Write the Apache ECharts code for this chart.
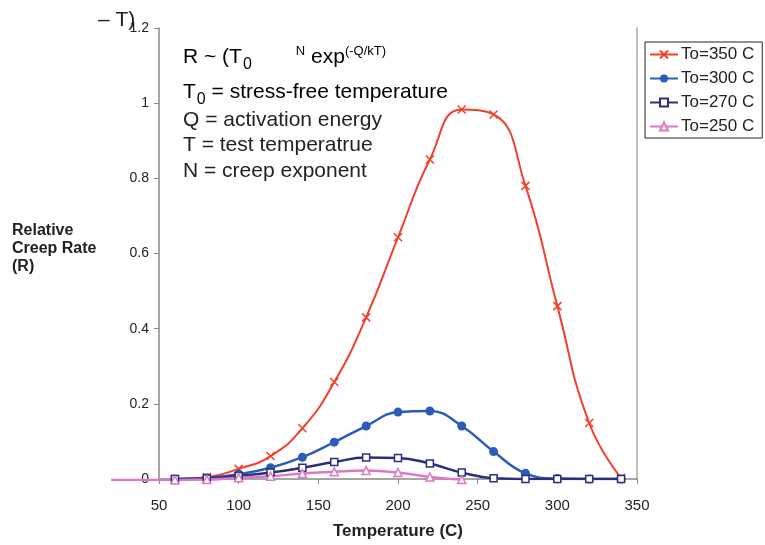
<!DOCTYPE html>
<html lang="en">
<head>
    <meta charset="UTF-8">
    <title>Relative Creep Rate</title>
    <script src="https://cdn.jsdelivr.net/npm/echarts@6/dist/echarts.min.js"></script>
    <style>
        html, body { margin: 0; padding: 0; background: #fff; }
        #main { width: 765px; height: 545px; }
    </style>
</head>
<body>
<div id="main"></div>
<script>
// temperatures (C)
var temps = [60, 80, 100, 120, 140, 160, 180, 200, 220, 240, 260, 280, 300, 320, 340];
var to350 = [0, 0.005, 0.027, 0.061, 0.135, 0.258, 0.43, 0.643, 0.85, 0.983, 0.97, 0.78, 0.46, 0.149, 0.003];
var to300 = [0, 0.003, 0.013, 0.03, 0.058, 0.098, 0.141, 0.178, 0.181, 0.141, 0.073, 0.015, 0.001, 0, 0];
var to270 = [0, 0.001, 0.008, 0.017, 0.03, 0.045, 0.057, 0.056, 0.041, 0.017, 0.002, 0, 0, 0, 0];
// the 250 C curve starts left of the axis
var tempsPink = [20, 40, 60, 80, 100, 120, 140, 160, 180, 200, 220, 240];
var to250 = [0, 0, 0, 0.001, 0.006, 0.01, 0.017, 0.022, 0.025, 0.02, 0.008, 0.001];

var xTicks = [50, 100, 150, 200, 250, 300, 350];

function pairs(xs, ys) {
    var out = [];
    for (var i = 0; i < xs.length; i++) {
        if (xs[i] < xTicks[0]) {
            out.push({value: [xs[i], ys[i]], symbol: 'none'});
        } else {
            out.push([xs[i], ys[i]]);
        }
    }
    return out;
}

// plot area
var gLeft = 159, gTop = 28, gWidth = 478, gHeight = 452;
var xMin = xTicks[0], xMax = xTicks[xTicks.length - 1];
var pxPerUnit = gWidth / (xMax - xMin);
// a second, invisible grid that reaches further left so the pink tail can be drawn
var x2Min = tempsPink[0];
var g2Left = gLeft - (xMin - x2Min) * pxPerUnit;
var g2Width = (xMax - x2Min) * pxPerUnit;

var chartDom = document.getElementById('main');
var myChart = echarts.init(chartDom, null, {renderer: 'canvas'});
var font = 'Liberation Sans, Arial, sans-serif';

var rich = {
    b: {fontSize: 21, fontFamily: font, color: '#222', verticalAlign: 'bottom', padding: [0, 0, 5, 0]},
    s: {fontSize: 16, fontFamily: font, color: '#222', padding: [0, 0, 0, 1], verticalAlign: 'bottom'},
    g: {width: 44},
    u: {fontSize: 13, fontFamily: font, color: '#222', padding: [0, 0, 15, 0], verticalAlign: 'bottom'}
};

var option = {
    animation: false,
    textStyle: {fontFamily: font},
    grid: [
        {left: gLeft, top: gTop, width: gWidth, height: gHeight},
        {left: g2Left, top: gTop, width: g2Width, height: gHeight}
    ],
    legend: {
        orient: 'vertical',
        left: 645,
        top: 42,
        width: 118,
        padding: [4, 8, 3, 4],
        itemWidth: 28,
        itemHeight: 10,
        itemGap: 7,
        borderColor: '#222',
        borderWidth: 1,
        borderRadius: 0,
        textStyle: {fontSize: 17, color: '#222', fontFamily: font, padding: [0, 0, 0, -2]},
        data: ['To=350 C', 'To=300 C', 'To=270 C', 'To=250 C']
    },
    xAxis: [{
        type: 'value',
        gridIndex: 0,
        min: xMin,
        max: xMax,
        interval: 50,
        name: 'Temperature (C)',
        nameLocation: 'middle',
        nameGap: 44,
        nameTextStyle: {fontSize: 17, fontWeight: 'bold', color: '#222', fontFamily: font},
        axisLine: {lineStyle: {color: '#888', width: 1.5}},
        axisTick: {show: true, length: 5, lineStyle: {color: '#888'}},
        axisLabel: {fontSize: 15, color: '#222', margin: 19},
        splitLine: {show: false}
    }, {
        type: 'value',
        gridIndex: 1,
        min: x2Min,
        max: xMax,
        show: false
    }],
    yAxis: [{
        type: 'value',
        gridIndex: 0,
        min: 0,
        max: 1.2,
        interval: 0.2,
        axisLine: {show: true, lineStyle: {color: '#888', width: 1.5}},
        axisTick: {show: true, length: 5, lineStyle: {color: '#888'}},
        axisLabel: {fontSize: 14, color: '#222', margin: 10},
        splitLine: {show: false}
    }, {
        type: 'value',
        gridIndex: 0,
        min: 0,
        max: 1.2,
        position: 'right',
        axisLine: {show: true, lineStyle: {color: '#aaa', width: 1.5}},
        axisTick: {show: false},
        axisLabel: {show: false},
        splitLine: {show: false}
    }, {
        type: 'value',
        gridIndex: 1,
        min: 0,
        max: 1.2,
        show: false
    }],
    graphic: [
        {type: 'text', left: 98, top: 10, style: {text: '– T)', font: '21px ' + font, fill: '#222'}},
        {type: 'text', left: 12, top: 222, style: {text: 'Relative\nCreep Rate\n(R)', font: 'bold 16px ' + font, fill: '#222', lineHeight: 18}},
        {type: 'text', left: 183, top: 45, style: {text: '{b|R ~ (T}{s|0}{g|}{u|N}{b| exp}{u|(-Q/kT)}', rich: rich}},
        {type: 'text', left: 183, top: 82, style: {text: '{b|T}{s|0}{b| = stress-free temperature}', rich: rich}},
        {type: 'text', left: 183, top: 110, style: {text: 'Q = activation energy', font: '21px ' + font, fill: '#222'}},
        {type: 'text', left: 183, top: 135, style: {text: 'T = test temperatrue', font: '21px ' + font, fill: '#222'}},
        {type: 'text', left: 183, top: 161, style: {text: 'N = creep exponent', font: '21px ' + font, fill: '#222'}}
    ],
    series: [
        {
            name: 'To=350 C', type: 'line', smooth: 0.5,
            symbol: 'path://M0,0L10,10M10,0L0,10', symbolSize: 8,
            itemStyle: {color: '#f0402d', borderColor: '#f0402d', borderWidth: 1.5},
            lineStyle: {color: '#f0402d', width: 2},
            data: pairs(temps, to350)
        },
        {
            name: 'To=300 C', type: 'line', smooth: 0.45,
            symbol: 'circle', symbolSize: 9,
            itemStyle: {color: '#2c5cb8'},
            lineStyle: {color: '#2c5cb8', width: 2.5},
            data: pairs(temps, to300)
        },
        {
            name: 'To=270 C', type: 'line', smooth: 0.45,
            symbol: 'rect', symbolSize: 7,
            itemStyle: {color: '#fff', borderColor: '#2b2e78', borderWidth: 1.5},
            lineStyle: {color: '#2b2e78', width: 2.5},
            data: pairs(temps, to270)
        },
        {
            name: 'To=250 C', type: 'line', smooth: 0.45,
            xAxisIndex: 1, yAxisIndex: 2,
            symbol: 'triangle', symbolSize: 8,
            itemStyle: {color: '#fff', borderColor: '#dd78c6', borderWidth: 1.5},
            lineStyle: {color: '#dd78c6', width: 2.5},
            data: pairs(tempsPink, to250)
        }
    ]
};

myChart.setOption(option);
</script>
</body>
</html>
